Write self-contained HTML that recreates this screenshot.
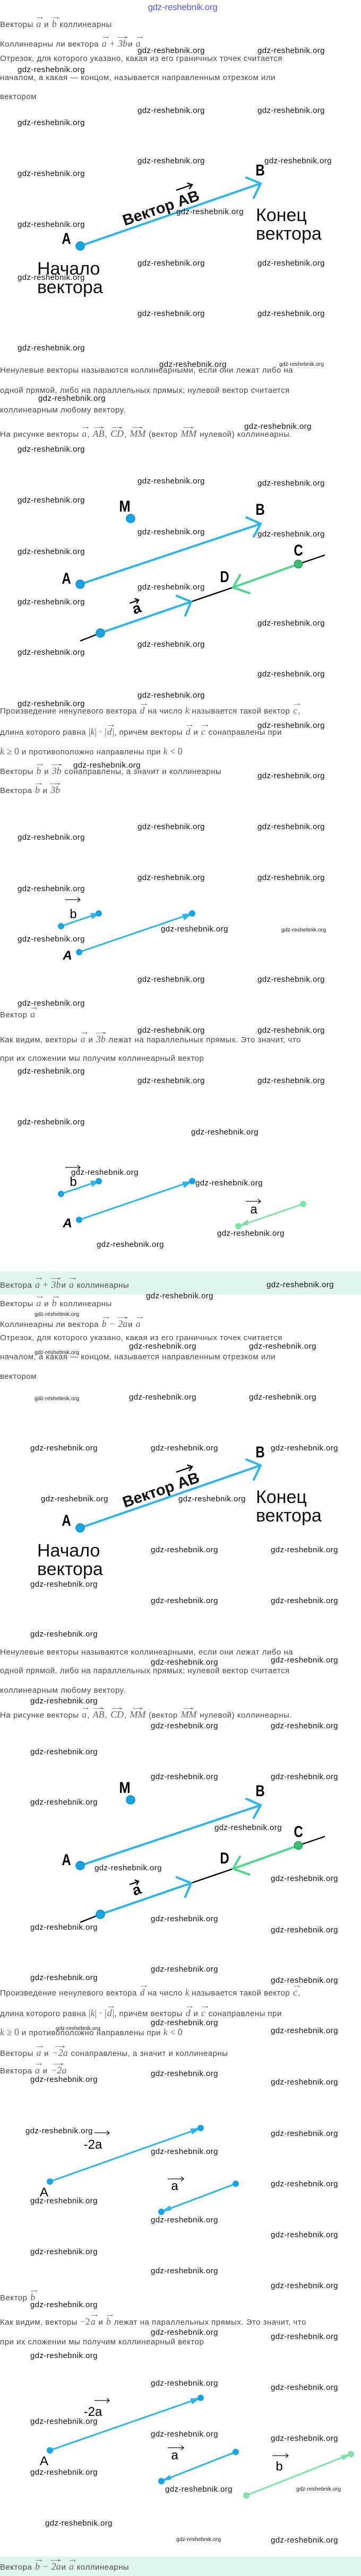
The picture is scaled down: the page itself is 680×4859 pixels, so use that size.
<!DOCTYPE html>
<html><head><meta charset="utf-8">
<style>
html,body{margin:0;padding:0;background:#fff}
body{width:680px;height:4859px;position:relative;overflow:hidden;font-family:"Liberation Sans",sans-serif}
.t{position:absolute;left:0;white-space:nowrap;font-size:15px;line-height:22px;color:#4a4a4a;letter-spacing:0.5px}
.w{position:absolute;white-space:nowrap;font-size:15px;line-height:18px;color:#111;letter-spacing:0.4px;z-index:5}
.ws{position:absolute;white-space:nowrap;font-size:10.5px;line-height:14px;color:#222;z-index:5}
.v{position:relative;display:inline-block;font-family:"Liberation Serif",serif;font-style:italic;font-size:18px;color:#666;letter-spacing:0;padding:0 1px}
.v::after{content:"→";position:absolute;left:0;right:0;top:-13px;font-style:normal;font-size:15px;text-align:center;transform:scaleX(1.3)}
.v2::after{transform:scaleX(2.2)}
.m{font-family:"Liberation Serif",serif;font-style:italic;font-size:18px;color:#666;letter-spacing:0}
.mn{font-family:"Liberation Serif",serif;font-size:18px;color:#666;letter-spacing:0}
.band{position:absolute;left:0;width:680px;background:#dff7ea}
svg{position:absolute;left:0;top:0}
</style></head><body>

<div class="band" style="top:2398px;height:44px"></div>
<div class="band" style="top:4822px;height:37px"></div>

<svg width="680" height="4859" viewBox="0 0 680 4859" xmlns="http://www.w3.org/2000/svg" font-family="Liberation Sans, sans-serif">
<text x="344" y="19" font-size="17" fill="#5a5af0" text-anchor="middle" letter-spacing="-0.3">gdz-reshebnik.org</text>

<!-- Diagram 1 -->
<g id="d1">
<line x1="151" y1="464" x2="491" y2="346" stroke="#2bb5ee" stroke-width="4" stroke-linecap="round"/>
<polyline points="464,335 491,346 478,373" fill="none" stroke="#2bb5ee" stroke-width="4" stroke-linecap="round" stroke-linejoin="round"/>
<circle cx="151" cy="464" r="8" fill="#15a5e6" stroke="#0b8bc8" stroke-width="1.5"/>
<text x="125" y="460" font-size="30" font-weight="bold" text-anchor="middle" transform="translate(125 0) scale(0.8 1) translate(-125 0)">A</text>
<text x="490" y="331" font-size="30" font-weight="bold" text-anchor="middle" transform="translate(490 0) scale(0.8 1) translate(-490 0)">B</text>
<g transform="translate(303 392) rotate(-19)">
<text x="0" y="10" font-size="29" text-anchor="middle" font-weight="bold" fill="#111">Вектор AB</text>
<line x1="38" y1="-22" x2="70" y2="-22" stroke="#111" stroke-width="2.5"/>
<polyline points="62,-28 70,-22 62,-16" fill="none" stroke="#111" stroke-width="2.5"/>
</g>
<text x="482" y="417" font-size="34" fill="#111">Конец</text>
<text x="482" y="452" font-size="34" fill="#111">вектора</text>
<text x="70" y="518" font-size="34" fill="#111">Начало</text>
<text x="70" y="553" font-size="34" fill="#111">вектора</text>
</g>
<use href="#d1" transform="translate(0 2418)"/>

<!-- Diagram 2 -->
<g id="d2">
<text x="235" y="965" font-size="30" font-weight="bold" text-anchor="middle" transform="translate(235 0) scale(0.85 1) translate(-235 0)">M</text>
<circle cx="246" cy="978" r="8" fill="#15a5e6" stroke="#0b8bc8" stroke-width="1.5"/>
<text x="490" y="971" font-size="30" font-weight="bold" text-anchor="middle" transform="translate(490 0) scale(0.8 1) translate(-490 0)">B</text>
<line x1="151" y1="1102" x2="491" y2="988" stroke="#2bb5ee" stroke-width="4" stroke-linecap="round"/>
<polyline points="464,976 491,988 478,1012" fill="none" stroke="#2bb5ee" stroke-width="4" stroke-linecap="round" stroke-linejoin="round"/>
<circle cx="151" cy="1102" r="8" fill="#15a5e6" stroke="#0b8bc8" stroke-width="1.5"/>
<text x="125" y="1101" font-size="30" font-weight="bold" text-anchor="middle" transform="translate(125 0) scale(0.8 1) translate(-125 0)">A</text>
<text x="562" y="1048" font-size="30" font-weight="bold" text-anchor="middle" transform="translate(562 0) scale(0.8 1) translate(-562 0)">C</text>
<line x1="612" y1="1047" x2="562" y2="1064" stroke="#000" stroke-width="2.5"/>
<line x1="439" y1="1108" x2="360" y2="1135" stroke="#000" stroke-width="2.5"/>
<line x1="151" y1="1209" x2="189" y2="1194" stroke="#000" stroke-width="2.5"/>
<line x1="562" y1="1064" x2="439" y2="1108" stroke="#4cd98a" stroke-width="4" stroke-linecap="round"/>
<polyline points="452,1085 439,1108 470,1119" fill="none" stroke="#4cd98a" stroke-width="4" stroke-linecap="round" stroke-linejoin="round"/>
<circle cx="562" cy="1064" r="7.5" fill="#3cbf72" stroke="#2a9a58" stroke-width="1.5"/>
<text x="423" y="1098" font-size="30" font-weight="bold" text-anchor="middle" transform="translate(423 0) scale(0.8 1) translate(-423 0)">D</text>
<line x1="189" y1="1194" x2="360" y2="1135" stroke="#2bb5ee" stroke-width="4" stroke-linecap="round"/>
<polyline points="333,1124 360,1135 349,1161" fill="none" stroke="#2bb5ee" stroke-width="4" stroke-linecap="round" stroke-linejoin="round"/>
<circle cx="189" cy="1194" r="8" fill="#15a5e6" stroke="#0b8bc8" stroke-width="1.5"/>
<g transform="translate(257 1147) rotate(-20)">
<text x="0" y="10" font-size="28" font-weight="bold" text-anchor="middle">a</text>
<line x1="-9" y1="-13" x2="9" y2="-13" stroke="#111" stroke-width="2.5"/>
<polyline points="3,-18 9,-13 3,-8" fill="none" stroke="#111" stroke-width="2.5"/>
</g>
</g>
<use href="#d2" transform="translate(0 2417)"/>

<!-- Diagram 3 (b, 3b) -->
<g id="d3">
<line x1="115" y1="1747" x2="186" y2="1723" stroke="#2bb5ee" stroke-width="3"/>
<polygon points="186,1723 170,1722 174,1734" fill="#2bb5ee"/>
<circle cx="115" cy="1747" r="6" fill="#15a5e6"/><circle cx="186" cy="1723" r="6" fill="#15a5e6"/>
<text x="138" y="1732" font-size="24" text-anchor="middle">b</text>
<line x1="123" y1="1697" x2="151" y2="1697" stroke="#111" stroke-width="1.3"/>
<polyline points="146,1693 151,1697 146,1701" fill="none" stroke="#111" stroke-width="1.3"/>
<line x1="149" y1="1796" x2="362" y2="1723" stroke="#2bb5ee" stroke-width="3"/>
<polygon points="362,1723 343,1724 347,1736" fill="#2bb5ee"/>
<circle cx="149" cy="1796" r="6" fill="#15a5e6"/><circle cx="362" cy="1723" r="6" fill="#15a5e6"/>
<text x="127" y="1810" font-size="24" font-weight="bold" font-style="italic" text-anchor="middle">A</text>
</g>
<use href="#d3" transform="translate(0 505)"/>
<line x1="571" y1="2271" x2="449" y2="2313" stroke="#7ee3a8" stroke-width="3"/>
<polygon points="449,2313 467,2300 467,2311" fill="#7ee3a8"/>
<circle cx="571" cy="2271" r="6" fill="#7ee3a8"/><circle cx="449" cy="2313" r="6" fill="#7ee3a8"/>
<text x="478" y="2289" font-size="24" text-anchor="middle">a</text>
<line x1="463" y1="2266" x2="491" y2="2266" stroke="#111" stroke-width="1.3"/>
<polyline points="486,2262 491,2266 486,2270" fill="none" stroke="#111" stroke-width="1.3"/>

<!-- first -2a diagram -->
<line x1="94" y1="4115" x2="378" y2="4014" stroke="#2bb5ee" stroke-width="3"/>
<polygon points="378,4014 358,4015 362,4026" fill="#2bb5ee"/>
<circle cx="378" cy="4014" r="6" fill="#15a5e6"/>
<circle cx="94" cy="4115" r="6" fill="#15a5e6"/>
<text x="175" y="4053" font-size="24" text-anchor="middle">-2a</text>
<line x1="178" y1="4023" x2="206" y2="4023" stroke="#111" stroke-width="1.3"/>
<polyline points="201,4019 206,4023 201,4027" fill="none" stroke="#111" stroke-width="1.3"/>
<text x="83" y="4143" font-size="24" text-anchor="middle">A</text>
<line x1="444" y1="4119" x2="304" y2="4172" stroke="#2bb5ee" stroke-width="3"/>
<polygon points="304,4172 320,4160 323,4169" fill="#2bb5ee"/>
<circle cx="444" cy="4119" r="6" fill="#15a5e6"/><circle cx="304" cy="4172" r="6" fill="#15a5e6"/>
<text x="329" y="4131" font-size="24" text-anchor="middle">a</text>
<line x1="316" y1="4110" x2="346" y2="4110" stroke="#111" stroke-width="1.3"/>
<polyline points="341,4106 346,4110 341,4114" fill="none" stroke="#111" stroke-width="1.3"/>

<!-- second -2a diagram -->
<line x1="94" y1="4622" x2="378" y2="4523" stroke="#2bb5ee" stroke-width="3"/>
<polygon points="378,4523 358,4524 362,4535" fill="#2bb5ee"/>
<circle cx="94" cy="4622" r="6" fill="#15a5e6"/><circle cx="378" cy="4523" r="6" fill="#15a5e6"/>
<text x="175" y="4557" font-size="24" text-anchor="middle">-2a</text>
<line x1="178" y1="4528" x2="206" y2="4528" stroke="#111" stroke-width="1.3"/>
<polyline points="201,4524 206,4528 201,4532" fill="none" stroke="#111" stroke-width="1.3"/>
<text x="83" y="4650" font-size="24" text-anchor="middle">A</text>
<line x1="444" y1="4625" x2="304" y2="4680" stroke="#2bb5ee" stroke-width="3"/>
<polygon points="304,4680 320,4668 323,4677" fill="#2bb5ee"/>
<circle cx="444" cy="4625" r="6" fill="#15a5e6"/><circle cx="304" cy="4680" r="6" fill="#15a5e6"/>
<text x="329" y="4639" font-size="24" text-anchor="middle">a</text>
<line x1="316" y1="4617" x2="346" y2="4617" stroke="#111" stroke-width="1.3"/>
<polyline points="341,4613 346,4617 341,4621" fill="none" stroke="#111" stroke-width="1.3"/>
<line x1="464" y1="4707" x2="661" y2="4629" stroke="#7ee3a8" stroke-width="3"/>
<polygon points="661,4629 642,4631 646,4641" fill="#7ee3a8"/>
<circle cx="464" cy="4707" r="6" fill="#7ee3a8"/><circle cx="661" cy="4629" r="6" fill="#7ee3a8"/>
<text x="526" y="4660" font-size="24" text-anchor="middle">b</text>
<line x1="513" y1="4632" x2="543" y2="4632" stroke="#111" stroke-width="1.3"/>
<polyline points="538,4628 543,4632 538,4636" fill="none" stroke="#111" stroke-width="1.3"/>
</svg>

<!-- Body text -->
<div class="t" style="top:34px">Векторы <span class="v">a</span> и <span class="v">b</span> коллинеарны</div>
<div class="t" style="top:71px">Коллинеарны ли вектора <span class="v">a</span> <span class="mn">+</span> <span class="v v2">3b</span>и <span class="v">a</span></div>
<div class="t" style="top:100px">Отрезок, для которого указано, какая из его граничных точек считается</div>
<div class="t" style="top:136px">началом, а какая — концом, называется направленным отрезком или</div>
<div class="t" style="top:172px">вектором</div>

<div class="t" style="top:688px">Ненулевые векторы называются коллинеарными, если они лежат либо на</div>
<div class="t" style="top:726px">одной прямой, либо на параллельных прямых; нулевой вектор считается</div>
<div class="t" style="top:763px">коллинеарным любому вектору.</div>
<div class="t" style="top:807px">На рисунке векторы <span class="v">a</span>, <span class="v v2">AB</span>, <span class="v v2">CD</span>, <span class="v v2">MM</span> (вектор <span class="v v2">MM</span> нулевой) коллинеарны.</div>

<div class="t" style="top:1329px">Произведение ненулевого вектора <span class="v">d</span> на число <span class="m">k</span> называется такой вектор <span class="v">c</span>,</div>
<div class="t" style="top:1369px">длина которого равна <span class="mn">|</span><span class="m">k</span><span class="mn">| · |</span><span class="v">d</span><span class="mn">|</span>, причём векторы <span class="v">d</span> и <span class="v">c</span> сонаправлены при</div>
<div class="t" style="top:1406px"><span class="m">k</span> <span class="mn">≥ 0</span> и противоположно направлены при <span class="m">k</span> <span class="mn">&lt; 0</span></div>
<div class="t" style="top:1443px">Векторы <span class="v">b</span> и <span class="v v2">3b</span> сонаправлены, а значит и коллинеарны</div>
<div class="t" style="top:1479px">Вектора <span class="v">b</span> и <span class="v v2">3b</span></div>

<div class="t" style="top:1902px">Вектор <span class="v">a</span></div>
<div class="t" style="top:1949px">Как видим, векторы <span class="v">a</span> и <span class="v v2">3b</span> лежат на параллельных прямых. Это значит, что</div>
<div class="t" style="top:1986px">при их сложении мы получим коллинеарный вектор</div>

<div class="t" style="top:2412px">Вектора <span class="v">a</span> <span class="mn">+</span> <span class="v v2">3b</span>и <span class="v">a</span> коллинеарны</div>
<div class="t" style="top:2447px">Векторы <span class="v">a</span> и <span class="v">b</span> коллинеарны</div>
<div class="t" style="top:2486px">Коллинеарны ли вектора <span class="v">b</span> <span class="mn">−</span> <span class="v v2">2a</span>и <span class="v">a</span></div>
<div class="t" style="top:2513px">Отрезок, для которого указано, какая из его граничных точек считается</div>
<div class="t" style="top:2549px">началом, а какая — концом, называется направленным отрезком или</div>
<div class="t" style="top:2586px">вектором</div>

<div class="t" style="top:3106px">Ненулевые векторы называются коллинеарными, если они лежат либо на</div>
<div class="t" style="top:3141px">одной прямой, либо на параллельных прямых; нулевой вектор считается</div>
<div class="t" style="top:3178px">коллинеарным любому вектору.</div>
<div class="t" style="top:3223px">На рисунке векторы <span class="v">a</span>, <span class="v v2">AB</span>, <span class="v v2">CD</span>, <span class="v v2">MM</span> (вектор <span class="v v2">MM</span> нулевой) коллинеарны.</div>

<div class="t" style="top:3747px">Произведение ненулевого вектора <span class="v">d</span> на число <span class="m">k</span> называется такой вектор <span class="v">c</span>,</div>
<div class="t" style="top:3786px">длина которого равна <span class="mn">|</span><span class="m">k</span><span class="mn">| · |</span><span class="v">d</span><span class="mn">|</span>, причём векторы <span class="v">d</span> и <span class="v">c</span> сонаправлены при</div>
<div class="t" style="top:3822px"><span class="m">k</span> <span class="mn">≥ 0</span> и противоположно направлены при <span class="m">k</span> <span class="mn">&lt; 0</span></div>
<div class="t" style="top:3861px">Векторы <span class="v">a</span> и <span class="v v2">−2a</span> сонаправлены, а значит и коллинеарны</div>
<div class="t" style="top:3894px">Вектора <span class="v">a</span> и <span class="v v2">−2a</span></div>

<div class="t" style="top:4322px">Вектор <span class="v">b</span></div>
<div class="t" style="top:4368px">Как видим, векторы <span class="mn">−2</span><span class="v">a</span> и <span class="v">b</span> лежат на параллельных прямых. Это значит, что</div>
<div class="t" style="top:4407px">при их сложении мы получим коллинеарный вектор</div>
<div class="t" style="top:4830px">Вектора <span class="v">b</span> <span class="mn">−</span> <span class="v v2">2a</span>и <span class="v">a</span> коллинеарны</div>

<!-- watermarks -->
<div class="w" style="left:259px;top:87px">gdz-reshebnik.org</div>
<div class="w" style="left:485px;top:87px">gdz-reshebnik.org</div>
<div class="w" style="left:33px;top:123px">gdz-reshebnik.org</div>
<div class="w" style="left:259px;top:200px">gdz-reshebnik.org</div>
<div class="w" style="left:485px;top:200px">gdz-reshebnik.org</div>
<div class="w" style="left:33px;top:223px">gdz-reshebnik.org</div>
<div class="w" style="left:259px;top:295px">gdz-reshebnik.org</div>
<div class="w" style="left:498px;top:295px">gdz-reshebnik.org</div>
<div class="w" style="left:33px;top:319px">gdz-reshebnik.org</div>
<div class="w" style="left:332px;top:391px">gdz-reshebnik.org</div>
<div class="w" style="left:33px;top:415px">gdz-reshebnik.org</div>
<div class="w" style="left:259px;top:488px">gdz-reshebnik.org</div>
<div class="w" style="left:485px;top:488px">gdz-reshebnik.org</div>
<div class="w" style="left:33px;top:515px">gdz-reshebnik.org</div>
<div class="w" style="left:259px;top:583px">gdz-reshebnik.org</div>
<div class="w" style="left:485px;top:583px">gdz-reshebnik.org</div>
<div class="w" style="left:33px;top:648px">gdz-reshebnik.org</div>
<div class="w" style="left:300px;top:679px">gdz-reshebnik.org</div>
<div class="ws" style="left:526px;top:680px">gdz-reshebnik.org</div>

<div class="w" style="left:72px;top:743px">gdz-reshebnik.org</div>
<div class="w" style="left:460px;top:796px">gdz-reshebnik.org</div>
<div class="w" style="left:33px;top:839px">gdz-reshebnik.org</div>
<div class="w" style="left:259px;top:899px">gdz-reshebnik.org</div>
<div class="w" style="left:485px;top:903px">gdz-reshebnik.org</div>
<div class="w" style="left:33px;top:935px">gdz-reshebnik.org</div>
<div class="w" style="left:259px;top:995px">gdz-reshebnik.org</div>
<div class="w" style="left:485px;top:999px">gdz-reshebnik.org</div>
<div class="w" style="left:33px;top:1032px">gdz-reshebnik.org</div>
<div class="w" style="left:259px;top:1099px">gdz-reshebnik.org</div>
<div class="w" style="left:33px;top:1127px">gdz-reshebnik.org</div>
<div class="w" style="left:485px;top:1167px">gdz-reshebnik.org</div>
<div class="w" style="left:259px;top:1207px">gdz-reshebnik.org</div>
<div class="w" style="left:33px;top:1222px">gdz-reshebnik.org</div>
<div class="w" style="left:485px;top:1263px">gdz-reshebnik.org</div>
<div class="w" style="left:259px;top:1303px">gdz-reshebnik.org</div>
<div class="w" style="left:33px;top:1319px">gdz-reshebnik.org</div>
<div class="w" style="left:485px;top:1360px">gdz-reshebnik.org</div>
<div class="w" style="left:138px;top:1435px">gdz-reshebnik.org</div>
<div class="w" style="left:485px;top:1455px">gdz-reshebnik.org</div>

<div class="w" style="left:259px;top:1551px">gdz-reshebnik.org</div>
<div class="w" style="left:485px;top:1551px">gdz-reshebnik.org</div>
<div class="w" style="left:33px;top:1571px">gdz-reshebnik.org</div>
<div class="w" style="left:259px;top:1647px">gdz-reshebnik.org</div>
<div class="w" style="left:485px;top:1647px">gdz-reshebnik.org</div>
<div class="w" style="left:33px;top:1668px">gdz-reshebnik.org</div>
<div class="w" style="left:303px;top:1744px">gdz-reshebnik.org</div>
<div class="ws" style="left:530px;top:1747px">gdz-reshebnik.org</div>
<div class="w" style="left:33px;top:1763px">gdz-reshebnik.org</div>
<div class="w" style="left:259px;top:1839px">gdz-reshebnik.org</div>
<div class="w" style="left:485px;top:1839px">gdz-reshebnik.org</div>
<div class="w" style="left:33px;top:1884px">gdz-reshebnik.org</div>
<div class="w" style="left:259px;top:1935px">gdz-reshebnik.org</div>
<div class="w" style="left:485px;top:1935px">gdz-reshebnik.org</div>
<div class="w" style="left:33px;top:2012px">gdz-reshebnik.org</div>
<div class="w" style="left:259px;top:2030px">gdz-reshebnik.org</div>
<div class="w" style="left:485px;top:2030px">gdz-reshebnik.org</div>
<div class="w" style="left:33px;top:2108px">gdz-reshebnik.org</div>
<div class="w" style="left:360px;top:2127px">gdz-reshebnik.org</div>
<div class="w" style="left:134px;top:2203px">gdz-reshebnik.org</div>
<div class="w" style="left:368px;top:2223px">gdz-reshebnik.org</div>
<div class="w" style="left:409px;top:2318px">gdz-reshebnik.org</div>
<div class="w" style="left:182px;top:2339px">gdz-reshebnik.org</div>

<div class="w" style="left:502px;top:2415px">gdz-reshebnik.org</div>
<div class="w" style="left:275px;top:2436px">gdz-reshebnik.org</div>
<div class="ws" style="left:65px;top:2472px">gdz-reshebnik.org</div>
<div class="w" style="left:243px;top:2531px">gdz-reshebnik.org</div>
<div class="w" style="left:469px;top:2531px">gdz-reshebnik.org</div>
<div class="ws" style="left:65px;top:2544px">gdz-reshebnik.org</div>
<div class="ws" style="left:65px;top:2631px">gdz-reshebnik.org</div>
<div class="w" style="left:243px;top:2627px">gdz-reshebnik.org</div>
<div class="w" style="left:469px;top:2627px">gdz-reshebnik.org</div>
<div class="w" style="left:57px;top:2723px">gdz-reshebnik.org</div>
<div class="w" style="left:284px;top:2723px">gdz-reshebnik.org</div>
<div class="w" style="left:510px;top:2723px">gdz-reshebnik.org</div>
<div class="w" style="left:77px;top:2819px">gdz-reshebnik.org</div>
<div class="w" style="left:336px;top:2819px">gdz-reshebnik.org</div>
<div class="w" style="left:284px;top:2915px">gdz-reshebnik.org</div>
<div class="w" style="left:510px;top:2915px">gdz-reshebnik.org</div>
<div class="w" style="left:57px;top:2980px">gdz-reshebnik.org</div>
<div class="w" style="left:284px;top:3011px">gdz-reshebnik.org</div>
<div class="w" style="left:510px;top:3011px">gdz-reshebnik.org</div>
<div class="w" style="left:57px;top:3074px">gdz-reshebnik.org</div>
<div class="w" style="left:284px;top:3127px">gdz-reshebnik.org</div>
<div class="w" style="left:510px;top:3123px">gdz-reshebnik.org</div>
<div class="w" style="left:57px;top:3200px">gdz-reshebnik.org</div>
<div class="w" style="left:284px;top:3247px">gdz-reshebnik.org</div>
<div class="w" style="left:510px;top:3247px">gdz-reshebnik.org</div>

<div class="w" style="left:57px;top:3296px">gdz-reshebnik.org</div>
<div class="w" style="left:284px;top:3343px">gdz-reshebnik.org</div>
<div class="w" style="left:510px;top:3343px">gdz-reshebnik.org</div>
<div class="w" style="left:57px;top:3391px">gdz-reshebnik.org</div>
<div class="w" style="left:404px;top:3439px">gdz-reshebnik.org</div>
<div class="w" style="left:178px;top:3515px">gdz-reshebnik.org</div>
<div class="w" style="left:510px;top:3535px">gdz-reshebnik.org</div>
<div class="w" style="left:284px;top:3611px">gdz-reshebnik.org</div>
<div class="w" style="left:57px;top:3627px">gdz-reshebnik.org</div>
<div class="w" style="left:510px;top:3632px">gdz-reshebnik.org</div>
<div class="w" style="left:284px;top:3706px">gdz-reshebnik.org</div>
<div class="w" style="left:57px;top:3722px">gdz-reshebnik.org</div>
<div class="w" style="left:510px;top:3727px">gdz-reshebnik.org</div>
<div class="w" style="left:284px;top:3807px">gdz-reshebnik.org</div>
<div class="ws" style="left:105px;top:3819px">gdz-reshebnik.org</div>
<div class="w" style="left:510px;top:3822px">gdz-reshebnik.org</div>
<div class="w" style="left:57px;top:3914px">gdz-reshebnik.org</div>
<div class="w" style="left:284px;top:3903px">gdz-reshebnik.org</div>
<div class="w" style="left:510px;top:3919px">gdz-reshebnik.org</div>
<div class="w" style="left:48px;top:4011px">gdz-reshebnik.org</div>
<div class="w" style="left:510px;top:4016px">gdz-reshebnik.org</div>
<div class="w" style="left:284px;top:4050px">gdz-reshebnik.org</div>

<div class="w" style="left:510px;top:4111px">gdz-reshebnik.org</div>
<div class="w" style="left:57px;top:4143px">gdz-reshebnik.org</div>
<div class="w" style="left:284px;top:4179px">gdz-reshebnik.org</div>
<div class="w" style="left:510px;top:4207px">gdz-reshebnik.org</div>
<div class="w" style="left:57px;top:4239px">gdz-reshebnik.org</div>
<div class="w" style="left:284px;top:4275px">gdz-reshebnik.org</div>
<div class="w" style="left:510px;top:4303px">gdz-reshebnik.org</div>
<div class="w" style="left:57px;top:4339px">gdz-reshebnik.org</div>
<div class="w" style="left:284px;top:4391px">gdz-reshebnik.org</div>
<div class="w" style="left:510px;top:4399px">gdz-reshebnik.org</div>
<div class="w" style="left:57px;top:4435px">gdz-reshebnik.org</div>
<div class="w" style="left:284px;top:4487px">gdz-reshebnik.org</div>
<div class="w" style="left:510px;top:4495px">gdz-reshebnik.org</div>
<div class="w" style="left:57px;top:4559px">gdz-reshebnik.org</div>
<div class="w" style="left:284px;top:4583px">gdz-reshebnik.org</div>
<div class="w" style="left:510px;top:4591px">gdz-reshebnik.org</div>
<div class="w" style="left:57px;top:4655px">gdz-reshebnik.org</div>
<div class="w" style="left:311px;top:4687px">gdz-reshebnik.org</div>
<div class="ws" style="left:558px;top:4688px">gdz-reshebnik.org</div>
<div class="w" style="left:85px;top:4751px">gdz-reshebnik.org</div>
<div class="ws" style="left:332px;top:4783px">gdz-reshebnik.org</div>
<div class="w" style="left:510px;top:4783px">gdz-reshebnik.org</div>
</body></html>
